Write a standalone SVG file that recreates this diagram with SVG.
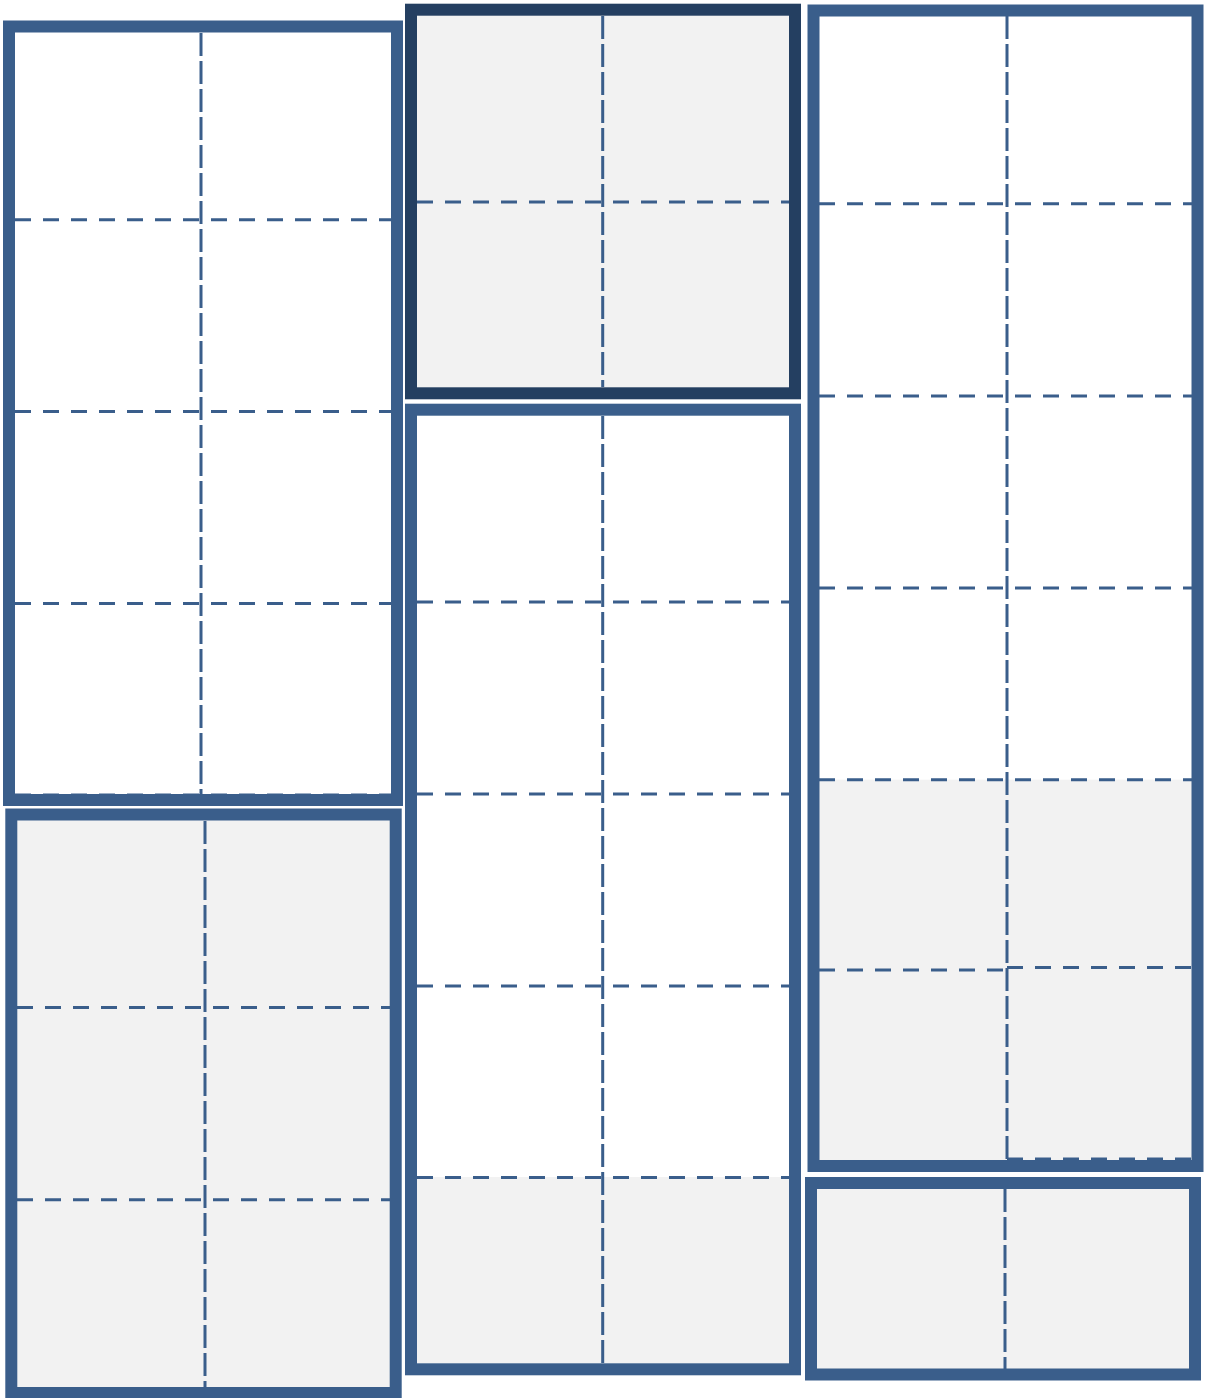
<svg xmlns="http://www.w3.org/2000/svg" width="1207" height="1398" viewBox="0 0 1207 1398">
<style>
.frame{fill:none;stroke:#3A5E8B;stroke-width:12}
.frame.dark{stroke:#243F61}
.h{stroke:#3A5E8B;stroke-width:3;stroke-dasharray:16 12;fill:none}
.v{stroke:#3A5E8B;stroke-width:3;stroke-dasharray:23 5;fill:none}
.grey{fill:#F2F2F2}
.white{fill:#FFFFFF}
</style>
<rect width="1207" height="1398" fill="#FFFFFF"/>
<g id="box-top-left">
<rect class="white" x="9" y="26.5" width="388" height="773.5"/>
<line class="v" x1="201" y1="33" x2="201" y2="794"/>
<line class="h" x1="15" y1="219.7" x2="391" y2="219.7"/>
<line class="h" x1="15" y1="411.5" x2="391" y2="411.5"/>
<line class="h" x1="15" y1="603.5" x2="391" y2="603.5"/>
<line class="h" x1="15" y1="795" x2="391" y2="795"/>
<rect class="frame" x="9" y="26.5" width="388" height="773.5"/>
</g>
<g id="box-bottom-left">
<rect class="grey" x="11.3" y="814.5" width="384.4" height="578.5"/>
<line class="v" x1="205" y1="821" x2="205" y2="1389"/>
<line class="h" x1="17" y1="1007.5" x2="390" y2="1007.5"/>
<line class="h" x1="17" y1="1199.7" x2="390" y2="1199.7"/>
<rect class="frame" x="11.3" y="814.5" width="384.4" height="578.5"/>
</g>
<g id="box-top-middle">
<rect class="grey" x="411" y="9.7" width="384" height="383.6"/>
<line class="v" x1="602.7" y1="16" x2="602.7" y2="387"/>
<line class="h" x1="417" y1="202" x2="789" y2="202"/>
<rect class="frame dark" x="411" y="9.7" width="384" height="383.6"/>
</g>
<g id="box-middle">
<rect class="white" x="411" y="409.7" width="384" height="959.6"/>
<rect class="grey" x="417" y="1177" width="372" height="186.3"/>
<line class="v" x1="602.7" y1="416" x2="602.7" y2="1363"/>
<line class="h" x1="417" y1="602" x2="789" y2="602"/>
<line class="h" x1="417" y1="794" x2="789" y2="794"/>
<line class="h" x1="417" y1="986" x2="789" y2="986"/>
<line class="h" x1="417" y1="1177.5" x2="789" y2="1177.5"/>
<rect class="frame" x="411" y="409.7" width="384" height="959.6"/>
</g>
<g id="box-right">
<rect class="white" x="813.5" y="10.5" width="384" height="1155.5"/>
<rect class="grey" x="819" y="779.7" width="373" height="380.3"/>
<line class="v" x1="1007" y1="16" x2="1007" y2="1160"/>
<line class="h" x1="819" y1="203.7" x2="1192" y2="203.7"/>
<line class="h" x1="819" y1="396" x2="1192" y2="396"/>
<line class="h" x1="819" y1="588" x2="1192" y2="588"/>
<line class="h" x1="819" y1="779.7" x2="1192" y2="779.7"/>
<line class="h" x1="819" y1="970" x2="1007" y2="970"/>
<line class="h" x1="1007" y1="967.5" x2="1192" y2="967.5"/>
<line class="h" x1="1007" y1="1159" x2="1192" y2="1159"/>
<rect class="frame" x="813.5" y="10.5" width="384" height="1155.5"/>
</g>
<g id="box-bottom-right">
<rect class="grey" x="811" y="1183" width="384" height="191.5"/>
<line class="v" x1="1005" y1="1189" x2="1005" y2="1369"/>
<rect class="frame" x="811" y="1183" width="384" height="191.5"/>
</g>
<g id="connectors"/>
</svg>
